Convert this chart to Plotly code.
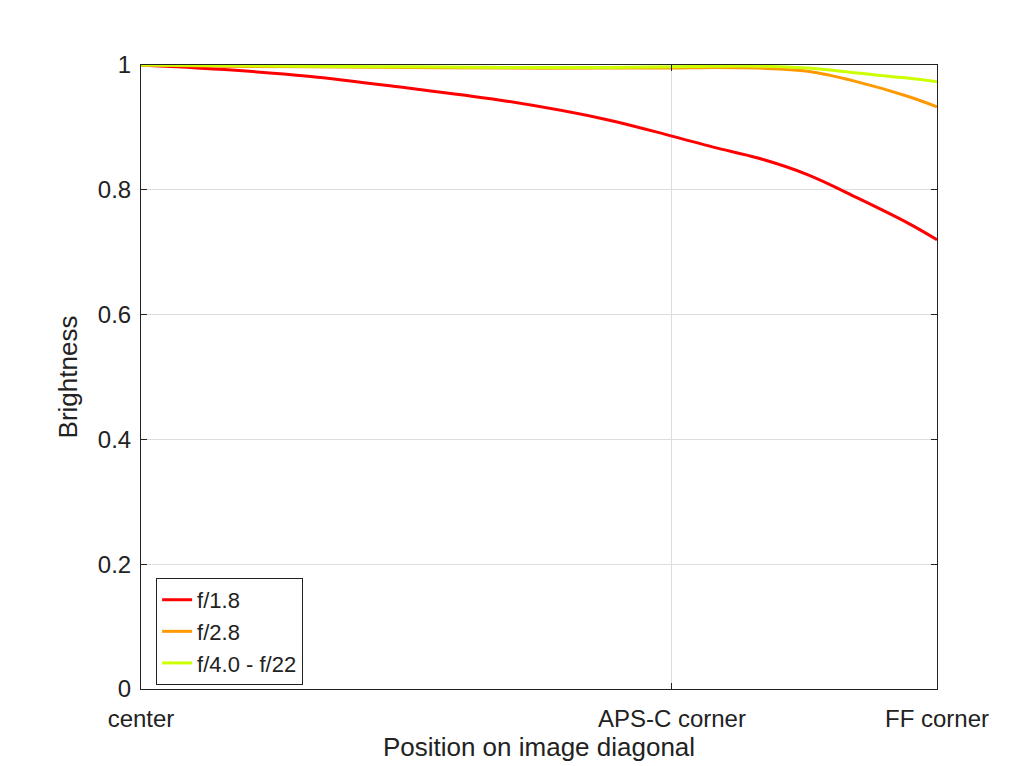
import plotly.graph_objects as go

pos = [0.0, 0.1, 0.21, 0.335, 0.46, 0.587, 0.667, 0.72, 0.775, 0.838, 0.9, 0.963, 1.0]
f18 = [1.0, 0.993, 0.982, 0.963, 0.942, 0.912, 0.886, 0.868, 0.851, 0.824, 0.787, 0.747, 0.72]
f28 = [1.0, 0.998, 0.997, 0.996, 0.995, 0.995, 0.995, 0.996, 0.995, 0.99, 0.973, 0.95, 0.933]
f40 = [1.0, 0.999, 0.998, 0.997, 0.996, 0.996, 0.997, 0.998, 0.998, 0.995, 0.987, 0.979, 0.973]

names = ["f/1.8", "f/2.8", "f/4.0 - f/22"]
colors = ["#ff0000", "#ff9900", "#ccff00"]

fig = go.Figure()
for name, ys, c in zip(names, [f18, f28, f40], colors):
    fig.add_trace(go.Scatter(x=pos, y=ys, name=name, mode="lines",
                             line=dict(color=c, width=3, shape="spline")))

axis = dict(showline=True, linecolor="#222", linewidth=1, mirror="ticks",
            ticks="inside", ticklen=6, tickcolor="#222", automargin=False,
            showgrid=True, gridcolor="#dddddd", zeroline=False)
fig.update_xaxes(range=[0, 1], tickvals=[0, 0.667, 1],
                 ticktext=["center", "APS-C corner", "FF corner"],
                 ticklabelstandoff=8,
                 title=dict(text="Position on image diagonal", standoff=0,
                            font=dict(size=26)), **axis)
fig.update_yaxes(range=[0, 1], tickvals=[0, 0.2, 0.4, 0.6, 0.8, 1],
                 ticktext=["0", "0.2", "0.4", "0.6", "0.8", "1"],
                 ticklabelstandoff=4,
                 title=dict(text="Brightness", standoff=12,
                            font=dict(size=26)), **axis)
fig.update_layout(
    width=1026, height=766, plot_bgcolor="white", paper_bgcolor="white",
    margin=dict(l=133, r=97, t=57, b=85),
    font=dict(family="Liberation Sans, Arial", size=24, color="#222"),
    legend=dict(x=0.019, y=0.178, xanchor="left", yanchor="top",
                bordercolor="#222", borderwidth=1, bgcolor="white",
                itemwidth=30, font=dict(size=22)),
)
fig.write_html("out.html")
